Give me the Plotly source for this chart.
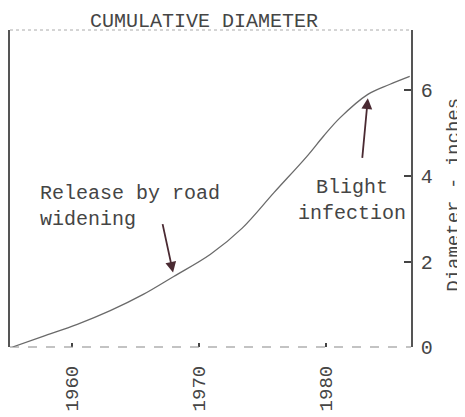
import plotly.graph_objects as go

# Data
years = [1955.3, 1957.7, 1960.4, 1963.0, 1965.6, 1968.0, 1970.9, 1973.4,
         1975.9, 1978.5, 1979.8, 1981.1, 1983.3, 1985.0, 1986.6]
diameter = [0.0, 0.25, 0.53, 0.85, 1.23, 1.65, 2.17, 2.78,
            3.61, 4.46, 4.93, 5.36, 5.91, 6.14, 6.33]

x_ticks = [1960, 1970, 1980]
y_ticks = [0, 2, 4, 6]

title_text = "CUMULATIVE DIAMETER"
y_title = "Diameter - inches"

# annotation anchors (data units): text position, arrow tail and arrow tip
road_text = "Release by road<br>widening"
road_text_pos = (1957.3, 3.28)
road_tail = (1967.1, 2.91)
road_tip = (1967.95, 1.74)

blight_text = "Blight<br>infection"
blight_text_pos = (1982.05, 3.43)
blight_tail = (1982.85, 4.39)
blight_tip = (1983.3, 5.82)

FONT = "Liberation Mono, Courier New, monospace"
TXT = "#454545"
ARROW = "#4a2a32"

# the page body adds an 8px offset; figure is sized to fill the rest of the window
W, H = 457, 409
ML, MR, MT, MB = 2, 54, 22, 69.5
PW, PH = W - ML - MR, H - MT - MB

fig = go.Figure()
fig.add_trace(go.Scatter(
    x=years, y=diameter, mode="lines",
    line=dict(color="#6a6a6a", width=1.3, shape="spline", smoothing=1.0),
    hoverinfo="skip", showlegend=False,
))

fig.update_layout(
    width=W, height=H,
    margin=dict(l=ML, r=MR, t=MT, b=MB, pad=0),
    paper_bgcolor="white", plot_bgcolor="white",
    font=dict(family=FONT, color=TXT, size=20),
    showlegend=False,
    title=dict(text=title_text, x=(196 - ML) / PW, xref="paper", xanchor="center",
               y=1 - 12 / H, yanchor="middle", automargin=False,
               font=dict(family=FONT, size=20, color=TXT)),
    xaxis=dict(
        range=[1955.1, 1986.7], tickvals=x_ticks, ticktext=[str(v) for v in x_ticks],
        tickangle=-90, ticks="inside", ticklen=4, tickwidth=2, tickcolor="#444",
        showgrid=False, zeroline=False, showline=False, automargin=False,
        tickfont=dict(family=FONT, size=19, color=TXT),
        ticklabelstandoff=14,
    ),
    yaxis=dict(
        range=[0, 7.415], side="right", tickvals=y_ticks,
        ticks="inside", ticklen=7, tickwidth=2, tickcolor="#444",
        showgrid=False, zeroline=False, showline=True, linecolor="#555",
        linewidth=1.5, mirror=True, automargin=False,
        tickfont=dict(family=FONT, size=20, color=TXT),
        ticklabelstandoff=4,
    ),
)

# y-axis title placed explicitly (rotated)
fig.add_annotation(text=y_title, xref="paper", yref="paper",
                   x=(446 - ML) / PW, y=(H - MB - 187) / PH,
                   xanchor="center", yanchor="middle", textangle=-90,
                   showarrow=False, font=dict(family=FONT, size=19, color=TXT))

# bottom (dashed, scanned look) and top (faint dotted) frame lines
fig.add_shape(type="line", xref="paper", yref="paper", x0=0, x1=1, y0=0, y1=0,
              line=dict(color="#888", width=1.2, dash="dash"))
fig.add_shape(type="line", xref="paper", yref="paper", x0=0, x1=1, y0=1, y1=1,
              line=dict(color="#aaa", width=1, dash="dot"))

# text annotations
fig.add_annotation(x=road_text_pos[0], y=road_text_pos[1], xref="x", yref="y",
                   text=road_text, showarrow=False, xanchor="left", yanchor="middle",
                   align="left", font=dict(family=FONT, size=20, color=TXT))
fig.add_annotation(x=blight_text_pos[0], y=blight_text_pos[1], xref="x", yref="y",
                   text=blight_text, showarrow=False, xanchor="center", yanchor="middle",
                   align="center", font=dict(family=FONT, size=20, color=TXT))

# arrows
for tail, tip in [(road_tail, road_tip), (blight_tail, blight_tip)]:
    fig.add_annotation(x=tip[0], y=tip[1], ax=tail[0], ay=tail[1],
                       xref="x", yref="y", axref="x", ayref="y",
                       text="", showarrow=True, arrowhead=2, arrowsize=1.2,
                       arrowwidth=1.8, arrowcolor=ARROW, standoff=0)

fig.write_html("out.html")
